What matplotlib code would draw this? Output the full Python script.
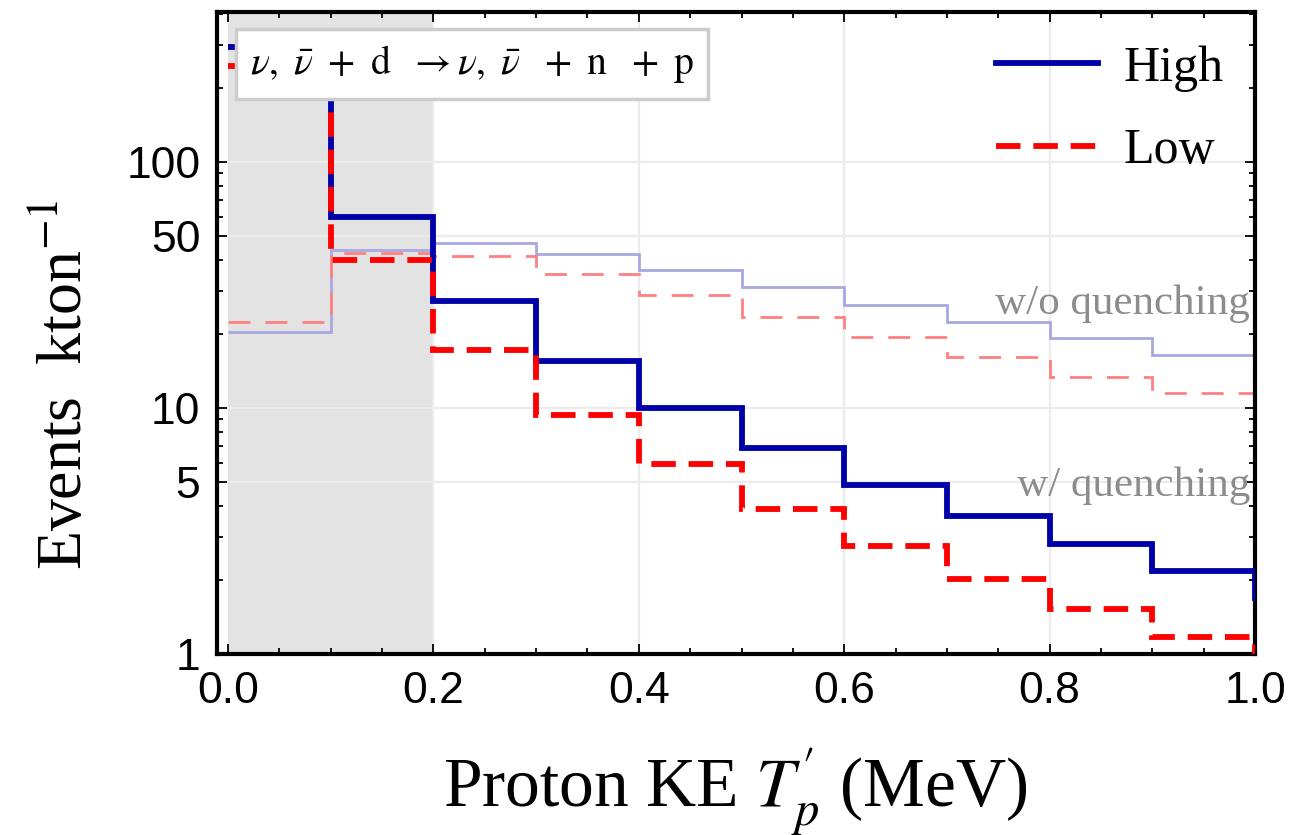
import numpy as np
import matplotlib
matplotlib.use("Agg")
from matplotlib import pyplot as plt
from matplotlib.ticker import FixedLocator, FixedFormatter, FormatStrFormatter, NullFormatter, LogLocator
from matplotlib.lines import Line2D

plt.rcParams['mathtext.fontset'] = 'stix'

# bin edges (MeV) and event counts per bin
edges = [0.0, 0.1, 0.2, 0.3, 0.4, 0.5, 0.6, 0.7, 0.8, 0.9, 1.0]
edges_ext = edges + [1.1]  # last bin only shows as the drop at 1.0

high_q = [294, 60, 27.2, 15.5, 10.0, 6.85, 4.88, 3.65, 2.81, 2.18, 1.69]
low_q = [246, 40, 17.3, 9.4, 5.9, 3.9, 2.76, 2.02, 1.52, 1.17, 0.9]
high_noq = [20.3, 43.9, 46.8, 42.2, 36.6, 31.0, 26.2, 22.3, 19.2, 16.4]
low_noq = [22.3, 42.6, 41.4, 35.0, 28.7, 23.4, 19.4, 16.1, 13.4, 11.5]

y_ticks = [1, 5, 10, 50, 100]
x_ticks = [0.0, 0.2, 0.4, 0.6, 0.8, 1.0]

azul = '#0000a8'
vermelho = '#ff0000'

fig = plt.figure(figsize=(13.05, 8.35), dpi=100)
ax = fig.add_axes([0.1663, 0.2168, 0.7954, 0.7688])

# regiao sombreada abaixo do limiar
ax.axvspan(0.0, 0.2, color='#e3e3e3', zorder=0, lw=0)

# grade clara
for gx in [0.2, 0.4, 0.6, 0.8]:
    ax.axvline(gx, color='#ececec', lw=1.6, zorder=0.5)
for gy in [5, 10, 50, 100]:
    ax.axhline(gy, color='#ececec', lw=1.6, zorder=0.5)

# sem quenching (linhas finas e claras)
ax.stairs(high_noq, edges, baseline=None, color='#a8a8e0', lw=2.0, zorder=2)
ax.stairs(low_noq, edges, baseline=None, color='#ff8080', lw=2.0,
          linestyle=(0, (7.9, 5.4)), zorder=2)

# com quenching (linhas grossas)
ax.stairs(high_q, edges_ext, baseline=None, color=azul, lw=4.2, zorder=3)
ax.stairs(low_q, edges_ext, baseline=None, color=vermelho, lw=4.2,
          linestyle=(0, (4.2, 2.2)), zorder=4)

ax.set_yscale('log')
ax.set_xlim(-0.0107, 1.0)
ax.set_ylim(1, 408)

ax.xaxis.set_major_locator(FixedLocator(x_ticks))
ax.xaxis.set_minor_locator(FixedLocator(np.arange(0, 1.001, 0.05)))
ax.xaxis.set_major_formatter(FormatStrFormatter('%.1f'))
ax.yaxis.set_major_locator(FixedLocator(y_ticks))
ax.yaxis.set_major_formatter(FixedFormatter([str(v) for v in y_ticks]))
ax.yaxis.set_minor_locator(LogLocator(base=10, subs=np.arange(2, 10)))
ax.yaxis.set_minor_formatter(NullFormatter())

ax.tick_params(which='both', direction='in', top=True, right=True, width=1.3)
ax.tick_params(which='major', length=7, labelsize=32, pad=12)
ax.tick_params(which='minor', length=4.5)
for lab in ax.get_xticklabels() + ax.get_yticklabels():
    lab.set_fontfamily('Liberation Sans')

for sp in ax.spines.values():
    sp.set_linewidth(3)

ax.set_xlabel(r"Proton KE $T^{\prime}_{p}$ (MeV)", fontsize=50, family='Liberation Serif', va='top')
ax.xaxis.set_label_coords(0.499, -0.144)
ax.set_ylabel(r"Events  kton$^{-1}$", fontsize=46, family='Liberation Serif')
ax.yaxis.set_label_coords(-0.117, 0.42)

# anotacoes
ax.text(0.995, 26.5, 'w/o quenching', color='#8c8c8c', fontsize=31, family='Liberation Serif',
        ha='right', va='center', zorder=5)
ax.text(0.995, 4.83, 'w/ quenching', color='#8c8c8c', fontsize=31, family='Liberation Serif',
        ha='right', va='center', zorder=5)

# caixa com a reacao
reacao = (r"$\nu,\ \bar{\nu}\ +\ \mathrm{d}\ \ \rightarrow \nu,\ \bar{\nu}\ \ +\ \mathrm{n}"
          r"\ \ +\ \mathrm{p}$")
ax.text(0.2457, 0.919, reacao,
        transform=ax.transAxes, fontsize=28.5, ha='center', va='center', zorder=10,
        bbox=dict(boxstyle='square,pad=0.35', fc='white', ec='#cccccc', lw=2.5))

handles = [Line2D([], [], color=azul, lw=4.2),
           Line2D([], [], color=vermelho, lw=4.2, linestyle=(0, (4.2, 2.2)))]
ax.legend(handles, ['High', 'Low'], loc='upper right', bbox_to_anchor=(1.013, 1.018),
          frameon=False, prop={'family': 'Liberation Serif', 'size': 36},
          handlelength=2.05, handletextpad=0.5, labelspacing=0.72)

fig.savefig('out.png', dpi=100)
